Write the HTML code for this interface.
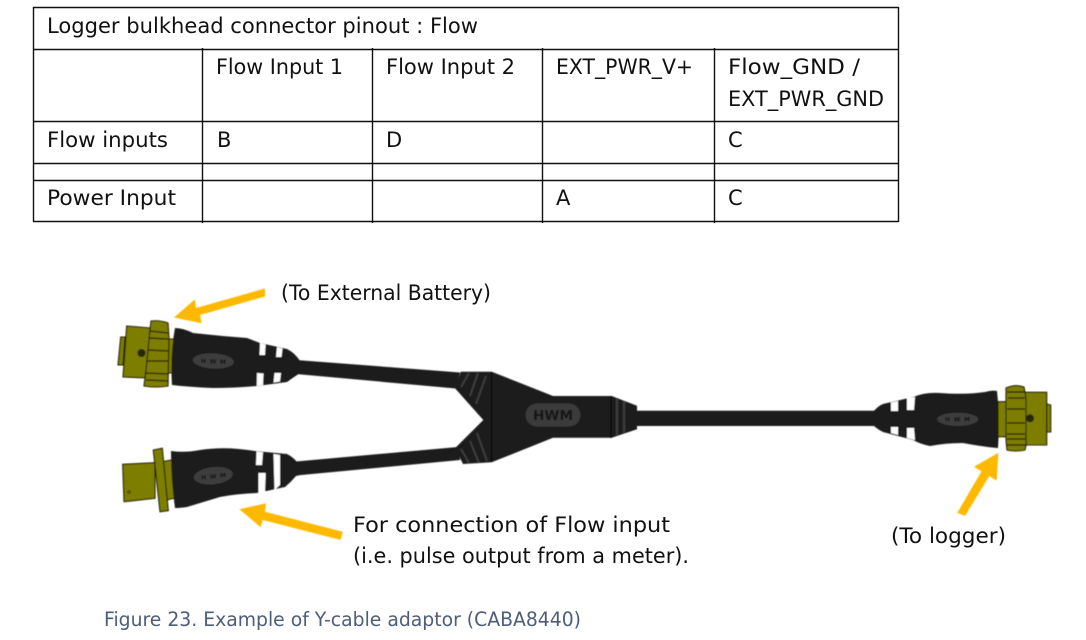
<!DOCTYPE html>
<html lang="en">
<head>
<meta charset="utf-8">
<title>Y-cable adaptor</title>
<style>
html,body{margin:0;padding:0;background:#fff;width:1086px;height:640px;overflow:hidden}
svg{display:block}
text{font-family:"DejaVu Sans","Liberation Sans",sans-serif;font-size:21px;fill:#111}
.tb{stroke:#111;stroke-width:1.4;fill:none}
.blk{fill:#1b1b1b}
.olv{fill:#7d7d00;stroke:#1a1a00;stroke-width:1.1}
.pill{fill:#3d3d3d;stroke:#151515;stroke-width:.6}
.arw{fill:#fdb900}
.gr{stroke:#3c3c3c;stroke-width:2;fill:none}
.wh{fill:#fff}
.hw{font-size:6px;font-weight:bold;fill:#111}
</style>
</head>
<body>
<svg width="1086" height="640" viewBox="0 0 1086 640" xmlns="http://www.w3.org/2000/svg">
<defs><filter id="soft" x="-5%" y="-5%" width="110%" height="110%"><feGaussianBlur stdDeviation="0.45"/></filter></defs>
<rect width="1086" height="640" fill="#fff"/>

<!-- table -->
<path class="tb" d="M33 7.5H898.5M33 49.5H898.5M33 121.5H898.5M33 163.5H898.5M33 180.5H898.5M33 221.5H898.5"/>
<path class="tb" d="M33.5 7V222M898.5 7V222M202.5 48V223M372.5 48V223M542.5 48V223M714.5 48V223"/>
<text x="47" y="33" textLength="431" lengthAdjust="spacingAndGlyphs">Logger bulkhead connector pinout : Flow</text>
<text x="216" y="74" textLength="127" lengthAdjust="spacingAndGlyphs">Flow Input 1</text>
<text x="386" y="74" textLength="129" lengthAdjust="spacingAndGlyphs">Flow Input 2</text>
<text x="556" y="74" textLength="137" lengthAdjust="spacingAndGlyphs">EXT_PWR_V+</text>
<text x="728" y="74" textLength="132" lengthAdjust="spacingAndGlyphs">Flow_GND /</text>
<text x="728" y="106" textLength="156" lengthAdjust="spacingAndGlyphs">EXT_PWR_GND</text>
<text x="47" y="147" textLength="121" lengthAdjust="spacingAndGlyphs">Flow inputs</text>
<text x="217" y="147">B</text>
<text x="386" y="147">D</text>
<text x="728" y="147">C</text>
<text x="47" y="205" textLength="129" lengthAdjust="spacingAndGlyphs">Power Input</text>
<text x="556" y="205">A</text>
<text x="728" y="205">C</text>

<g filter="url(#soft)">
<!-- cables -->
<polygon class="blk" points="296,360 460,372.500 456,388.500 296,374"/>
<polygon class="blk" points="296,461.500 458,447 460,460 296,475.500"/>
<rect class="blk" x="634" y="410.700" width="245" height="15.300"/>

<!-- Y body -->
<polygon class="blk" points="460.700,371.700 491.700,371.700 553,396 611.700,396 637,405.700 637,429.300 611.700,437.700 553,437.700 491.700,462.300 463,464 455,448.300 483.300,420 455,388.300"/>
<path d="M469 373L461 387M478 373L470 396M486 376L476 404" class="gr"/>
<path d="M461 449L469 463M470 441L479 463M477 433L487 461" class="gr"/>
<path d="M491.700 372V462M611 396V438" stroke="#050505" stroke-width="1" fill="none"/>
<path d="M617 398V435M624 401V433" stroke="#3c3c3c" stroke-width="2.400" fill="none"/>
<rect x="525.500" y="403.500" width="55" height="23" rx="11.500" fill="#3a3a3a"/>
<text x="533" y="420" style="font-size:13px;font-weight:bold;fill:#171717" textLength="40" lengthAdjust="spacingAndGlyphs">HWM</text>

<!-- top-left connector -->
<polygon class="olv" points="120.700,337 125,337 123,365 118,365"/>
<polygon class="olv" points="126.700,326 150,328 150,378 123,377"/>
<polygon class="olv" points="168,339 175,339 174,373 168,373"/>
<path class="olv" d="M151,321 Q160,320 168,323 L169,338 L168,386 Q156,388 144,386 L146,370 L149,340Z"/>
<path d="M150 331L168 333M149 338L168 339M148 350L168 351M147 361L168 361M146 373L168 374M146 380L168 381" stroke="#1a1a00" stroke-width="1.300" fill="none"/>
<circle cx="141.500" cy="353" r="4" fill="#26260a"/>
<path class="blk" d="M175,328 Q183,328 193,333 Q220,336 247,338 L260,343 L287,349 Q295,353 300,361 L300,373 Q294,377 287,382 L257,386 Q235,388 213,388 Q190,387 172,385 Q170,355 175,328Z"/>
<polygon class="wh" points="260,343 265.600,344.500 265,355 259.500,355"/>
<polygon class="wh" points="257,373 263.500,373.500 263,385 256.700,386"/>
<polygon class="wh" points="277,347 282.500,348.500 281.500,357 276,357"/>
<polygon class="wh" points="274.500,373 281,373 280,381.500 273.500,382.500"/>
<ellipse class="pill" cx="213.300" cy="361" rx="21" ry="8" transform="rotate(3 213.300 361)"/>
<text class="hw" x="201" y="363.500" textLength="25" transform="rotate(3 213 361)">HWM</text>

<!-- bottom-left connector -->
<polygon class="olv" points="122.700,464.300 155,462.700 155,498.300 124,501.700"/>
<polygon class="olv" points="162.300,461.700 172,460 175,498 166.700,500"/>
<polygon class="olv" points="153.300,450 162.300,448.300 168.300,510.700 160,511.700"/>
<circle cx="129" cy="492" r="1.300" fill="none" stroke="#1a1a00" stroke-width=".7"/>
<path class="blk" d="M171,451 Q185,453 200,450 Q225,446 255,451 L287,454 Q293,457 297,462 L300,462 L300,475 L296,476 Q291,482 285,487 L257,493 Q235,494 220,497 Q200,503 187,507 Q180,508 175,508 Q171,480 171,451Z"/>
<polygon class="wh" points="256.500,451.500 263,452.300 262,465 256,465"/>
<polygon class="wh" points="258.500,473 265.700,473 265,492 258.500,493.200"/>
<polygon class="wh" points="273.500,454 280,455 280,485 274.500,490"/>
<ellipse class="pill" cx="213.300" cy="475.700" rx="20" ry="9" transform="rotate(-6 213.300 475.700)"/>
<text class="hw" x="201" y="478.500" textLength="25" transform="rotate(-6 213 476)">HWM</text>

<!-- right connector -->
<path class="blk" d="M873,412 Q878,406 883,404 L913,397 Q925,392 940,393 Q965,395 985,392 Q992,390 997,391 Q1000,420 998,448 Q985,447 963,443 Q945,443 930,446 Q920,444 913,440 L883,432 Q877,429 873,425Z"/>
<polygon class="wh" points="891,402.500 898,401 898,411 891,411"/>
<polygon class="wh" points="891,427 898,427 898,435 891,433"/>
<polygon class="wh" points="907,398 915,397 914,410 907,410"/>
<polygon class="wh" points="907,428 914,428 915,440 907,438"/>
<ellipse class="pill" cx="957.700" cy="419.300" rx="21" ry="7"/>
<text class="hw" x="945" y="421.500" textLength="25">HWM</text>
<polygon class="olv" points="998,401.700 1007,401.700 1007,436.700 998,436.700"/>
<polygon class="olv" points="1025,392.300 1046.700,392.300 1046.700,445 1026,445"/>
<polygon class="olv" points="1046.700,404 1050.700,405 1050.700,432 1046.700,432"/>
<path class="olv" d="M1006,388 Q1015,384 1024,387 L1026,398 L1026,445 L1025,450 Q1015,452 1007,450 L1006,440Z"/>
<path d="M1007 392H1025M1008 398H1025M1007 409H1025M1007 423H1025M1007 434H1025M1007 439H1026M1007 445H1026" stroke="#1a1a00" stroke-width="1.300" fill="none"/>
<circle cx="1030" cy="418.300" r="4" fill="#26260a"/>

<!-- arrows -->
<polygon class="arw" points="265,288.500 265,296.500 200,315 201.700,323.300 174,317.500 195,299.300 196,308"/>
<polygon class="arw" points="239.300,509.300 266,503.300 265,511.700 342.700,531.700 340.700,540 262.700,520 260.700,527.300"/>
<polygon class="arw" points="998.300,452.700 996.700,480.700 989.300,476 965,516 957.300,512.700 981.500,471.400 974,466.700"/>
</g>

<!-- labels -->
<text x="281" y="300" textLength="210" lengthAdjust="spacingAndGlyphs">(To External Battery)</text>
<text x="353" y="532" textLength="317" lengthAdjust="spacingAndGlyphs">For connection of Flow input</text>
<text x="353" y="563" textLength="336" lengthAdjust="spacingAndGlyphs">(i.e. pulse output from a meter).</text>
<text x="891" y="543" textLength="115" lengthAdjust="spacingAndGlyphs">(To logger)</text>
<text x="104" y="626" textLength="477" lengthAdjust="spacingAndGlyphs" style="font-size:19.5px;fill:#4f5e78">Figure 23. Example of Y-cable adaptor (CABA8440)</text>
</svg>
</body>
</html>
